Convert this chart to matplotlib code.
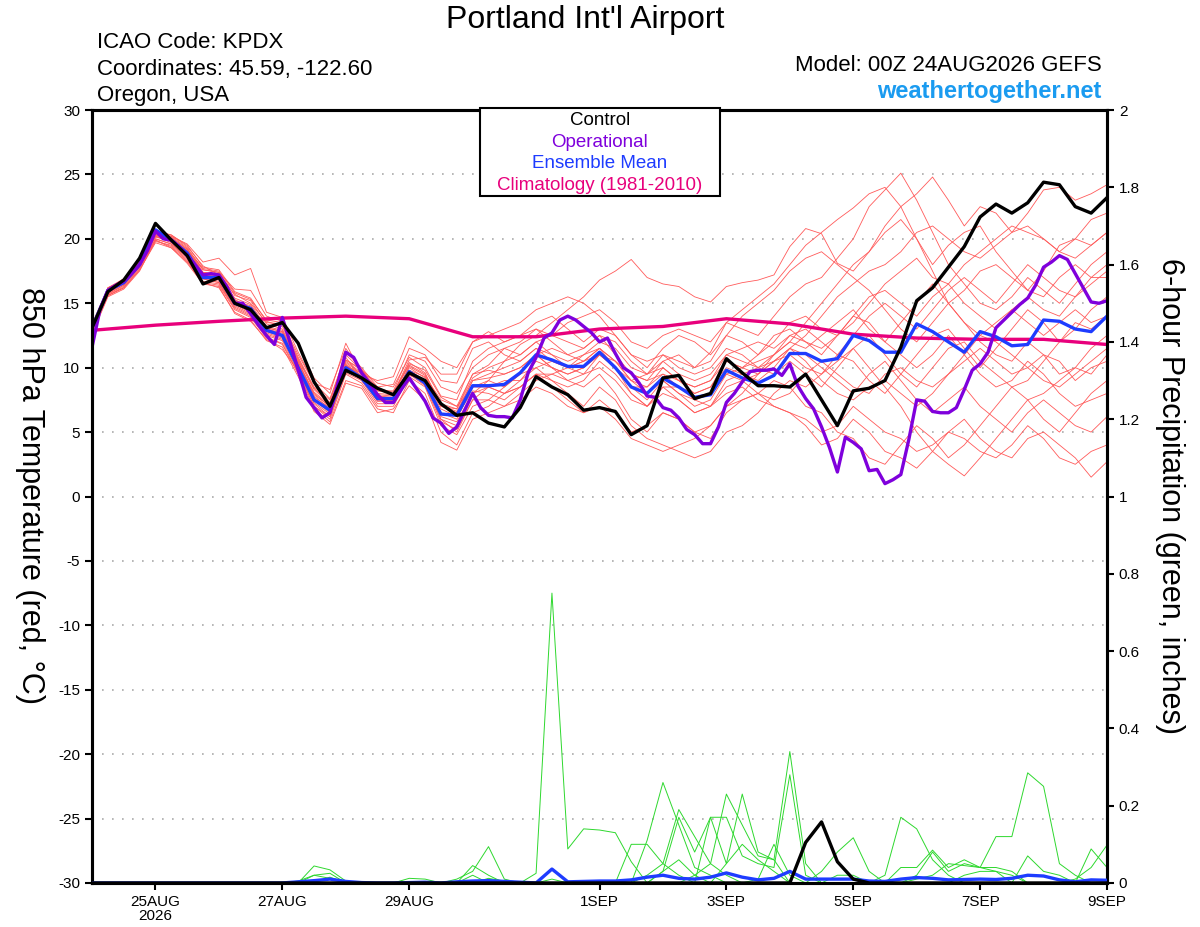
import numpy as np
import matplotlib
matplotlib.use("Agg")
import matplotlib.pyplot as plt
from matplotlib.patches import Rectangle

plt.rcParams['font.family'] = ['Liberation Sans', 'DejaVu Sans']
plt.rcParams['axes.unicode_minus'] = False

# ---- data (6-hourly from 00Z 24AUG, operational 3-hourly) ----
control_t = [13.1, 15.9, 16.8, 18.5, 21.2, 19.9, 18.7, 16.5, 17.0, 15.0, 14.5, 13.1,
             13.5, 11.9, 8.9, 7.0, 9.8, 9.2, 8.4, 7.9, 9.6, 9.0, 7.2, 6.3,
             6.5, 5.7, 5.4, 6.9, 9.3, 8.5, 7.9, 6.7, 6.9, 6.6, 4.8, 5.5,
             9.2, 9.4, 7.6, 8.0, 10.7, 9.6, 8.6, 8.6, 8.5, 9.5, 7.5, 5.5,
             8.2, 8.4, 9.0, 11.6, 15.2, 16.2, 17.8, 19.4, 21.7, 22.7, 22.0, 22.8,
             24.4, 24.2, 22.5, 22.0, 23.2]

mean_t = [13.1, 16.0, 16.6, 18.0, 20.7, 19.9, 18.9, 17.0, 17.0, 15.0, 14.6, 12.9,
          12.5, 10.0, 7.5, 6.7, 10.0, 9.2, 7.6, 7.6, 9.7, 8.8, 6.4, 6.3,
          8.6, 8.6, 8.7, 9.6, 11.0, 10.6, 10.1, 10.1, 11.2, 10.0, 8.5, 8.0,
          9.2, 8.5, 7.7, 7.9, 9.8, 9.2, 8.8, 9.4, 11.1, 11.1, 10.5, 10.7,
          12.5, 12.1, 11.2, 11.2, 13.4, 12.8, 12.0, 11.2, 12.8, 12.4, 11.7, 11.8,
          13.7, 13.6, 13.0, 12.8, 14.0]

oper_t = [11.6, 14.5, 16.0, 16.4, 16.7, 17.3, 18.0, 19.1, 20.6, 20.0, 19.9, 19.4,
          18.7, 18.0, 17.2, 17.3, 17.2, 16.3, 15.0, 15.0, 14.2, 13.3, 12.5, 11.8,
          13.9, 11.9, 9.8, 7.7, 6.9, 6.1, 6.5, 8.8, 11.2, 10.8, 9.6, 8.8,
          7.9, 7.3, 7.3, 8.3, 9.2, 8.3, 7.4, 6.1, 5.7, 4.9, 5.4, 6.7,
          8.0, 6.9, 6.3, 6.2, 6.2, 6.1, 7.5, 9.6, 10.8, 12.3, 12.7, 13.7,
          14.0, 13.7, 13.2, 12.7, 12.0, 12.3, 11.1, 10.0, 9.6, 8.8, 7.8, 7.7,
          6.9, 6.7, 6.1, 5.2, 4.8, 4.1, 4.1, 5.4, 7.3, 8.0, 8.9, 9.7,
          9.8, 9.8, 9.9, 9.4, 10.3, 8.6, 7.6, 6.8, 5.4, 3.8, 1.9, 4.6,
          4.2, 3.7, 2.0, 2.1, 1.0, 1.3, 1.7, 4.4, 7.5, 7.4, 6.6, 6.5,
          6.5, 6.9, 8.3, 9.8, 10.3, 11.2, 13.1, 13.7, 14.3, 14.9, 15.4, 16.4,
          17.8, 18.2, 18.7, 18.4, 17.3, 16.2, 15.1, 15.0, 15.2]

# daily climatology at 00Z, 24AUG .. 9SEP
climo_t = [12.9, 13.3, 13.6, 13.85, 14.0, 13.8, 12.4, 12.4, 13.0, 13.2, 13.8,
           13.4, 12.6, 12.3, 12.2, 12.2, 11.8]

# ensemble members: first 13 steps (to 27AUG 00Z) and the rest
member_early = [
    [13.0, 15.9, 16.6, 18.0, 20.4, 20.0, 19.0, 17.3, 17.0, 15.3, 14.6, 13.1, 12.8],
    [12.8, 16.1, 16.9, 18.2, 20.6, 20.3, 19.4, 17.9, 17.2, 15.7, 15.0, 13.5, 13.4],
    [13.3, 15.6, 16.2, 17.6, 19.8, 19.5, 18.4, 16.7, 16.5, 14.6, 14.0, 12.4, 11.8],
    [13.1, 16.0, 16.7, 18.1, 20.5, 20.1, 19.2, 17.4, 17.3, 15.2, 14.8, 13.0, 12.6],
    [13.2, 16.2, 16.8, 18.3, 20.2, 20.2, 19.6, 18.2, 18.5, 17.2, 17.7, 14.3, 13.9],
    [12.6, 15.5, 16.1, 17.5, 19.9, 19.3, 18.1, 16.5, 16.3, 14.2, 13.6, 12.2, 11.4],
    [13.4, 16.2, 16.8, 18.3, 20.1, 20.0, 19.1, 17.6, 17.4, 16.1, 16.0, 14.0, 13.6],
    [12.9, 15.7, 16.4, 17.8, 20.0, 19.6, 18.6, 16.9, 16.6, 14.8, 14.2, 12.6, 12.2],
    [13.0, 16.0, 16.6, 18.0, 20.3, 19.9, 18.9, 17.1, 16.9, 15.0, 14.5, 12.9, 12.5],
    [12.7, 15.6, 16.3, 17.7, 19.9, 19.4, 18.3, 16.6, 16.4, 14.5, 13.9, 12.3, 11.9],
    [13.2, 16.1, 16.8, 18.2, 20.5, 20.2, 19.3, 17.6, 17.4, 15.6, 15.2, 13.4, 13.0],
    [13.0, 15.8, 16.5, 17.9, 20.2, 19.7, 18.7, 17.0, 16.7, 14.9, 14.3, 12.7, 12.3],
    [13.1, 16.0, 16.7, 18.1, 20.4, 20.0, 19.1, 17.4, 17.2, 15.4, 14.9, 13.2, 12.9],
    [12.8, 15.6, 16.2, 17.6, 19.7, 19.3, 18.2, 16.6, 16.2, 14.3, 13.7, 12.1, 11.6],
    [13.3, 16.2, 16.9, 18.3, 20.6, 20.3, 19.5, 17.8, 17.6, 15.9, 15.4, 13.6, 13.2],
    [12.9, 15.8, 16.5, 17.9, 20.2, 19.8, 18.8, 17.1, 16.8, 15.0, 14.4, 12.8, 12.4],
    [13.2, 16.1, 16.8, 18.2, 20.5, 20.1, 19.2, 17.7, 17.5, 15.8, 15.3, 13.7, 13.5],
    [12.9, 15.7, 16.4, 17.8, 20.0, 19.6, 18.5, 16.9, 16.6, 14.7, 14.1, 12.5, 12.1],
    [13.0, 15.9, 16.6, 18.0, 20.3, 19.9, 18.9, 17.2, 17.0, 15.1, 14.6, 13.0, 12.7],
    [13.1, 16.0, 16.6, 18.1, 20.4, 20.0, 19.0, 17.3, 17.1, 15.2, 14.7, 13.1, 12.8],
]

member_late = [
    [10.5, 7.8, 6.8, 10.5, 9.6, 8.2, 8.0, 10.2,
     9.5, 7.2, 6.8, 9.5, 10.2, 11.5, 12.0, 13.0, 12.5, 12.0, 11.5, 12.5,
     11.0, 9.5, 9.0, 10.5, 11.0, 10.0, 11.2, 13.5, 13.0, 12.5, 14.0, 15.5,
     16.5, 17.0, 18.5, 20.0, 22.5, 23.8, 25.1, 23.0, 20.5, 18.0, 16.5, 15.0,
     14.5, 15.5, 17.0, 16.0, 15.0, 16.5, 18.0, 19.0],
    [10.8, 8.5, 7.5, 10.8, 9.2, 7.8, 7.7, 9.5,
     8.9, 6.0, 5.5, 8.0, 9.0, 10.5, 11.8, 12.5, 13.5, 14.5, 15.5, 16.8,
     17.5, 18.4, 17.0, 16.5, 16.3, 15.5, 15.1, 16.3, 16.6, 16.8, 17.2, 19.4,
     20.8, 20.4, 18.1, 17.5, 19.0, 21.0, 22.5, 23.5, 24.8, 23.0, 21.0, 22.5,
     22.0, 20.5, 22.0, 23.8, 24.0, 23.0, 23.5, 24.2],
    [9.5, 6.8, 5.8, 9.0, 8.6, 6.8, 6.5, 9.0,
     8.0, 5.0, 4.0, 6.5, 7.0, 8.0, 9.0, 10.5, 10.0, 9.0, 8.5, 9.5,
     8.0, 6.0, 5.0, 6.5, 6.0, 5.0, 4.5, 6.5, 7.5, 8.0, 7.0, 6.5,
     5.5, 4.0, 4.5, 6.0, 5.0, 3.5, 3.0, 2.2, 3.5, 5.0, 6.0, 4.5,
     3.5, 3.0, 4.5, 5.0, 4.0, 3.0, 1.5, 2.7],
    [10.2, 7.5, 6.5, 10.2, 9.4, 7.5, 7.4, 9.8,
     9.0, 6.5, 6.0, 8.5, 9.0, 8.5, 9.5, 11.0, 10.0, 9.5, 10.0, 11.0,
     10.5, 9.0, 8.0, 9.0, 8.0, 7.0, 7.5, 9.5, 10.0, 11.0, 12.5, 13.0,
     12.0, 11.0, 12.5, 14.0, 13.5, 12.0, 11.0, 10.0, 11.0, 12.5, 11.0, 9.5,
     8.5, 9.0, 10.5, 9.5, 8.0, 7.0, 7.5, 8.0],
    [11.2, 8.8, 7.6, 11.0, 9.8, 8.8, 8.5, 10.8,
     10.0, 7.8, 7.5, 10.5, 11.5, 12.0, 12.5, 13.5, 14.0, 13.0, 12.0, 13.0,
     12.5, 11.0, 10.0, 11.5, 12.5, 12.0, 11.0, 12.5, 14.0, 15.0, 16.0, 17.5,
     18.5, 19.0, 18.0, 17.0, 16.0, 14.5, 13.0, 12.0, 13.5, 15.0, 16.0, 17.5,
     18.0, 17.0, 16.0, 15.5, 17.0, 18.0, 17.0, 17.0],
    [9.8, 7.0, 6.0, 9.5, 8.8, 7.0, 7.0, 9.3,
     8.5, 5.5, 4.8, 7.0, 7.5, 8.5, 9.5, 10.0, 9.0, 8.0, 7.0, 8.5,
     7.5, 5.5, 4.5, 4.0, 3.5, 3.0, 3.5, 5.0, 5.5, 6.5, 8.0, 9.0,
     8.5, 9.5, 11.0, 10.5, 9.0, 8.0, 9.5, 11.0, 12.5, 13.0, 11.5, 10.0,
     11.5, 13.0, 14.5, 13.5, 12.0, 13.0, 14.5, 15.5],
    [11.8, 9.2, 8.0, 11.9, 9.5, 9.0, 9.3, 12.4,
     11.5, 10.5, 10.0, 12.0, 12.8, 12.0, 12.5, 13.0, 12.0, 11.0, 10.5, 11.5,
     10.0, 8.5, 8.5, 10.0, 9.0, 8.0, 8.5, 10.5, 10.0, 9.5, 11.0, 12.0,
     13.5, 15.0, 16.5, 18.0, 19.0, 20.5, 21.5, 20.0, 18.0, 19.5, 20.5, 21.0,
     19.0, 17.5, 16.0, 17.5, 19.5, 20.0, 19.5, 20.5],
    [10.0, 7.2, 6.2, 10.0, 9.0, 7.2, 7.2, 9.6,
     8.8, 6.2, 5.8, 8.0, 8.5, 8.0, 8.5, 9.5, 9.0, 8.5, 9.0, 10.5,
     9.5, 8.0, 7.0, 8.5, 7.5, 6.5, 7.0, 8.5, 9.0, 8.0, 9.0, 8.5,
     7.0, 6.5, 5.0, 4.5, 3.0, 2.5, 4.0, 5.5, 4.5, 3.0, 4.0, 5.5,
     7.0, 8.5, 7.5, 6.0, 5.0, 6.5, 8.0, 9.0],
    [10.4, 8.0, 7.0, 10.6, 9.9, 8.0, 7.9, 10.4,
     9.6, 7.0, 6.5, 9.0, 9.5, 10.0, 10.5, 11.5, 11.0, 10.5, 11.0, 12.0,
     11.5, 10.0, 9.5, 10.5, 9.5, 9.0, 9.5, 11.0, 11.5, 12.0, 11.5, 12.5,
     13.0, 12.0, 11.0, 12.5, 14.0, 15.0, 14.0, 13.0, 14.5, 16.0, 17.0, 16.0,
     15.0, 16.5, 18.0, 17.0, 16.0, 15.5, 16.5, 17.5],
    [9.6, 7.0, 6.2, 9.6, 9.0, 7.6, 7.5, 9.4,
     9.0, 6.8, 6.2, 8.2, 8.0, 7.5, 8.5, 9.5, 9.5, 9.0, 9.5, 10.0,
     9.0, 7.5, 7.0, 8.5, 8.5, 8.0, 8.5, 10.0, 9.5, 9.0, 10.0, 11.5,
     11.0, 10.0, 9.0, 8.0, 9.5, 10.5, 9.0, 7.5, 6.5, 7.5, 8.5, 7.0,
     6.0, 5.0, 6.5, 7.5, 6.5, 5.5, 5.0, 6.2],
    [10.6, 8.3, 7.2, 10.3, 9.3, 7.9, 7.8, 10.0,
     9.2, 7.0, 6.8, 9.2, 10.0, 10.5, 11.0, 12.0, 12.5, 13.5, 14.0, 14.5,
     13.5, 12.0, 11.5, 12.5, 13.0, 12.5, 12.0, 13.5, 14.5, 15.5, 16.5, 18.0,
     19.5, 20.5, 21.5, 22.4, 23.5, 24.0, 22.5, 20.0, 17.5, 15.0, 13.5, 12.0,
     11.0, 10.5, 12.0, 11.0, 9.5, 10.0, 11.5, 12.5],
    [9.9, 7.5, 6.6, 9.8, 9.1, 7.4, 7.5, 9.5,
     8.6, 5.8, 5.2, 7.5, 8.5, 9.0, 9.0, 10.0, 10.5, 10.0, 10.5, 11.0,
     10.0, 8.5, 7.5, 9.0, 8.0, 7.5, 8.0, 9.5, 9.0, 9.5, 10.5, 11.0,
     10.0, 9.5, 10.5, 11.5, 10.0, 8.5, 7.0, 5.0, 3.5, 2.5, 1.6, 3.0,
     4.5, 6.0, 7.5, 8.0, 9.0, 10.0, 9.5, 11.0],
    [10.3, 7.9, 7.0, 10.4, 9.5, 8.2, 8.2, 11.0,
     10.5, 8.5, 8.0, 10.0, 11.0, 11.5, 11.0, 12.0, 11.0, 10.0, 10.5, 11.5,
     10.5, 9.0, 8.5, 9.5, 9.0, 8.5, 9.0, 11.0, 10.5, 10.0, 11.0, 12.5,
     12.0, 11.5, 12.5, 13.5, 15.0, 16.5, 17.5, 18.5, 17.0, 16.5, 18.0, 19.0,
     20.0, 21.0, 20.5, 20.0, 19.0, 18.5, 19.5, 20.5],
    [9.3, 6.6, 5.6, 8.8, 8.4, 6.5, 6.8, 8.6,
     7.5, 4.2, 3.6, 6.0, 6.5, 7.0, 7.5, 8.5, 8.0, 7.0, 6.5, 7.5,
     6.5, 5.0, 5.5, 6.5, 6.0, 5.0, 5.5, 7.0, 7.5, 8.0, 7.5, 8.0,
     9.5, 10.5, 9.5, 8.5, 8.0, 9.5, 10.0, 9.0, 8.5, 9.5, 10.5, 11.5,
     10.5, 9.5, 10.0, 11.0, 10.5, 9.0, 10.0, 10.5],
    [10.7, 8.4, 7.3, 11.2, 10.0, 8.5, 8.7, 11.5,
     11.0, 9.0, 8.8, 11.5, 12.0, 11.0, 10.5, 11.5, 10.5, 10.0, 9.5, 11.0,
     10.0, 9.0, 9.5, 11.0, 10.5, 10.0, 10.5, 12.5, 12.0, 11.0, 12.0, 13.5,
     14.0, 13.0, 12.5, 14.0, 15.5, 16.0, 15.0, 14.0, 15.5, 16.5, 15.0, 14.0,
     13.0, 14.5, 15.5, 14.5, 14.0, 15.5, 17.0, 18.0],
    [10.0, 7.6, 6.6, 10.1, 9.6, 7.7, 7.4, 9.8,
     9.3, 7.5, 7.0, 8.5, 8.5, 8.0, 8.5, 9.5, 8.5, 7.5, 6.5, 7.0,
     6.0, 4.5, 4.0, 3.5, 4.0, 4.5, 5.5, 7.0, 8.0, 9.5, 10.5, 11.5,
     12.5, 14.0, 15.5, 16.5, 17.5, 18.0, 19.0, 20.5, 21.0, 20.0, 19.0, 18.5,
     19.5, 20.5, 21.0, 20.0, 19.0, 20.0, 21.5, 22.0],
    [11.0, 8.8, 8.3, 11.5, 9.7, 8.3, 8.0, 10.6,
     10.8, 9.5, 9.5, 12.0, 12.5, 13.0, 13.5, 14.5, 15.0, 15.5, 15.0, 14.0,
     12.5, 11.0, 10.5, 11.0, 10.0, 9.5, 10.0, 11.5, 11.0, 10.0, 10.5, 11.5,
     10.5, 9.0, 8.0, 7.5, 8.5, 9.0, 8.0, 7.0, 8.0, 9.5, 11.0, 12.5,
     12.0, 11.0, 10.0, 9.0, 8.5, 9.5, 10.5, 11.5],
    [9.7, 7.3, 6.4, 9.7, 9.2, 7.4, 7.4, 9.6,
     8.7, 6.0, 5.0, 7.5, 7.5, 7.0, 8.0, 9.0, 9.5, 10.0, 11.0, 11.5,
     10.5, 9.5, 9.0, 9.5, 8.5, 7.5, 7.0, 8.0, 8.5, 7.5, 7.0, 6.5,
     6.0, 5.0, 5.5, 7.0, 6.0, 5.0, 4.5, 3.5, 4.0, 5.0, 4.5, 3.5,
     3.0, 4.0, 5.5, 4.5, 3.0, 2.5, 3.5, 4.0],
    [10.1, 7.7, 6.9, 10.2, 9.3, 7.8, 7.6, 10.1,
     9.4, 7.1, 6.6, 9.0, 9.2, 9.5, 10.0, 11.0, 11.5, 11.0, 11.5, 12.5,
     12.0, 10.5, 9.5, 10.0, 9.0, 8.5, 9.0, 10.5, 10.0, 10.5, 11.0, 12.0,
     11.5, 12.5, 13.5, 14.5, 13.0, 12.0, 13.5, 15.0, 16.5, 15.0, 13.5, 12.5,
     13.5, 14.5, 13.5, 12.5, 13.5, 14.5, 13.5, 14.0],
    [10.4, 8.1, 7.1, 10.6, 9.8, 8.4, 8.1, 10.3,
     9.8, 7.7, 7.0, 9.5, 9.8, 9.5, 10.0, 11.0, 10.0, 9.5, 10.0, 11.0,
     10.0, 8.0, 7.0, 8.0, 7.5, 6.5, 7.0, 9.0, 9.5, 10.0, 9.5, 10.5,
     9.5, 8.5, 10.0, 11.5, 12.5, 11.0, 9.5, 8.5, 10.0, 11.5, 12.0, 10.5,
     9.5, 8.5, 9.0, 10.5, 12.0, 13.5, 13.0, 14.0],
]

# 6-hour precipitation (inches)
control_p = [0.0] * 45 + [0.105, 0.158, 0.055, 0.01] + [0.0] * 16

mean_p = [0, 0, 0, 0, 0, 0, 0, 0, 0, 0, 0, 0, 0, 0.003, 0.006, 0.01,
          0.004, 0.001, 0, 0, 0.001, 0.002, 0, 0.003, 0.005, 0.006, 0.004, 0.002,
          0, 0.036, 0.003, 0.004, 0.005, 0.005, 0.008, 0.015, 0.02, 0.012, 0.01, 0.015,
          0.026, 0.015, 0.008, 0.012, 0.03, 0.01, 0.01, 0.01, 0.01, 0.005, 0.004, 0.01,
          0.014, 0.012, 0.008, 0.009, 0.01, 0.009, 0.012, 0.02, 0.018, 0.008, 0.003, 0.008,
          0.007]

# non-zero 6-hour totals for the members that had rain: {step: inches}
member_p = [
    {28: 0.025, 29: 0.75, 30: 0.088, 31: 0.14, 32: 0.137, 33: 0.13, 34: 0.055},
    {14: 0.044, 15: 0.034, 16: 0.005, 23: 0.01, 24: 0.03, 25: 0.094, 26: 0.01,
     35: 0.11, 36: 0.26, 37: 0.15, 38: 0.04, 39: 0.02},
    {14: 0.02, 15: 0.025, 20: 0.012, 21: 0.01, 24: 0.045, 25: 0.02, 34: 0.1,
     35: 0.1, 36: 0.05, 37: 0.19, 38: 0.12, 39: 0.05, 40: 0.02},
    {15: 0.015, 24: 0.02, 36: 0.03, 37: 0.17, 38: 0.08, 39: 0.17, 40: 0.05,
     41: 0.23, 42: 0.08, 43: 0.06},
    {38: 0.02, 39: 0.05, 40: 0.23, 41: 0.15, 42: 0.07, 43: 0.06, 44: 0.34, 45: 0.05},
    {39: 0.17, 40: 0.17, 41: 0.07, 42: 0.05, 43: 0.04, 44: 0.28, 45: 0.02},
    {42: 0.01, 43: 0.1, 44: 0.02, 46: 0.03, 47: 0.08, 48: 0.117, 49: 0.03},
    {50: 0.02, 51: 0.17, 52: 0.14, 53: 0.06, 54: 0.02},
    {51: 0.04, 52: 0.04, 53: 0.085, 54: 0.04, 55: 0.06, 56: 0.04, 57: 0.12,
     58: 0.12, 59: 0.285, 60: 0.25, 61: 0.05, 62: 0.02},
    {52: 0.02, 53: 0.08, 54: 0.03, 55: 0.05, 56: 0.04, 57: 0.03, 59: 0.07,
     60: 0.03, 61: 0.02},
    {63: 0.088, 64: 0.04},
    {62: 0.01, 63: 0.04, 64: 0.098},
    {36: 0.03, 37: 0.06, 38: 0.02, 40: 0.05, 41: 0.1, 42: 0.06, 43: 0.03},
    {29: 0.01, 35: 0.02, 36: 0.05, 37: 0.02, 47: 0.02, 48: 0.02, 55: 0.02,
     56: 0.03, 57: 0.03, 58: 0.02},
    {13: 0.005, 14: 0.02, 15: 0.012, 25: 0.012, 26: 0.005, 52: 0.01, 53: 0.02,
     54: 0.05, 55: 0.045, 56: 0.04, 57: 0.04, 58: 0.03},
]

tick_hours = [24, 72, 120, 192, 240, 288, 336, 384]
tick_labels = ['25AUG\n2026', '27AUG', '29AUG', '1SEP', '3SEP', '5SEP', '7SEP', '9SEP']
right_labels = ['0', '0.2', '0.4', '0.6', '0.8', '1', '1.2', '1.4', '1.6', '1.8', '2']

hrs6 = np.arange(len(mean_t)) * 6
hrs3 = np.arange(len(oper_t)) * 3
hrs24 = np.arange(len(climo_t)) * 24

RED = '#ff5a5a'
GREEN = '#2ed82e'
PURPLE = '#7f00dc'
BLUE = '#1e3cff'
PINK = '#e8007c'

fig = plt.figure(figsize=(12, 9.27), dpi=100)
ax = fig.add_axes([0.0767, 0.0475, 0.8458, 0.8338])
ax2 = ax.twinx()

for early, late in zip(member_early, member_late):
    ax.plot(hrs6, early + late, color=RED, lw=0.6, zorder=2)

ax.plot(hrs24, climo_t, color=PINK, lw=2.4, zorder=3)
ax.plot(hrs6, mean_t, color=BLUE, lw=2.4, zorder=4)
ax.plot(hrs3, oper_t, color=PURPLE, lw=2.4, zorder=5)
ax.plot(hrs6, control_t, color='black', lw=2.4, zorder=6)

for mp in member_p:
    vals = np.zeros(len(hrs6))
    for k, v in mp.items():
        vals[k] = v
    ax2.plot(hrs6, vals, color=GREEN, lw=0.7, zorder=2)
ax2.plot(hrs6, mean_p, color=BLUE, lw=2.4, zorder=3)
ax2.plot(hrs6, control_p, color='black', lw=2.4, zorder=4)

ax.set_xlim(0, 384)
ax.set_ylim(-30, 30)
ax2.set_ylim(0, 2)

ax.set_yticks(np.arange(-30, 31, 5))
ax.set_yticklabels([str(v) for v in range(-30, 31, 5)], fontsize=11)
ax2.set_yticks(np.arange(0, 2.01, 0.2))
ax2.set_yticklabels(right_labels, fontsize=11)
ax.set_xticks(tick_hours)
ax.set_xticklabels(tick_labels, fontsize=11, linespacing=1.05)

for g in range(-25, 30, 5):
    ax.axhline(g, color='#aaaaaa', lw=1.2, linestyle=(0, (1, 5)), zorder=1)

for a in (ax, ax2):
    for s in a.spines.values():
        s.set_linewidth(2.2)
    a.tick_params(width=1.5, length=5)

# header text
fig.text(0.4875, 0.978, "Portland Int'l Airport", ha='center', va='center', fontsize=23)
fig.text(0.081, 0.954, "ICAO Code: KPDX", ha='left', va='center', fontsize=16)
fig.text(0.081, 0.925, "Coordinates: 45.59, -122.60", ha='left', va='center', fontsize=16)
fig.text(0.081, 0.897, "Oregon, USA", ha='left', va='center', fontsize=16)
fig.text(0.918, 0.929, "Model: 00Z 24AUG2026 GEFS", ha='right', va='center', fontsize=16)
fig.text(0.918, 0.901, "weathertogether.net", ha='right', va='center', fontsize=17,
         fontweight='bold', color='#1a9bf0')

fig.text(0.025, 0.466, "850 hPa Temperature (red, \u00b0C)", rotation=-90,
         ha='center', va='center', fontsize=22)
fig.text(0.975, 0.465, "6-hour Precipitation (green, inches)", rotation=-90,
         ha='center', va='center', fontsize=22)

# legend box
fig.add_artist(Rectangle((0.4, 0.7886), 0.2, 0.0949, transform=fig.transFigure,
                         facecolor='white', edgecolor='black', lw=1.5, zorder=10))
for yy, txt, col in [(0.8695, 'Control', 'black'), (0.8468, 'Operational', PURPLE),
                     (0.8231, 'Ensemble Mean', BLUE),
                     (0.7994, 'Climatology (1981-2010)', PINK)]:
    fig.text(0.5, yy, txt, ha='center', va='center', fontsize=13.5, color=col, zorder=11)

fig.savefig('out.png', dpi=100)
